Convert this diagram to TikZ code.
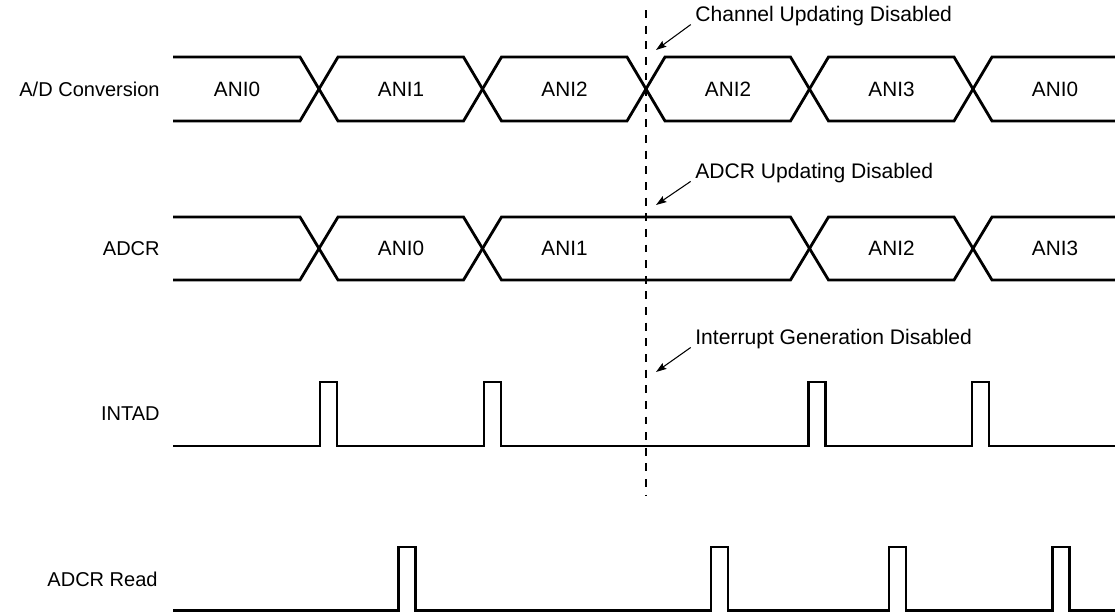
\documentclass[tikz,border=0pt]{standalone}
\usepackage{fontspec}
\setmainfont{Liberation Sans}
\usetikzlibrary{arrows.meta,positioning}

\begin{document}
\begin{tikzpicture}[x=0.02cm, y=-0.02cm,
  wave/.style={line width=1.6pt, line join=miter},
  sig/.style={font=\fontsize{11.4}{13}\selectfont, anchor=east, inner sep=0pt},
  val/.style={font=\fontsize{11.8}{13}\selectfont, inner sep=0pt},
  note/.style={font=\fontsize{12}{14}\selectfont, anchor=west, inner sep=0pt},
  pointer/.style={line width=0.6pt, shorten <=3pt, -{Stealth[length=6pt, width=4pt, inset=1pt]}},
  cut/.style={line width=0.6pt, dash pattern=on 4.5pt off 4.4pt}
]
  \useasboundingbox (0,0) rectangle (1115,612);
  % A/D Conversion
  \node[sig] (adc) at (160,89) {A/D Conversion};
  \draw[wave] (173,57) -- (300,57) -- (319,89) -- (300,121) -- (173,121);
  \foreach \a/\b in {319/482.5, 482.5/646, 646/809.5, 809.5/973}
     \draw[wave] (\a,89) -- (\a+19,57) -- (\b-19,57) -- (\b,89) -- (\b-19,121) -- (\a+19,121) -- cycle;
  \draw[wave] (1115,57) -- (992,57) -- (973,89) -- (992,121) -- (1115,121);
  \foreach \x/\t [count=\i] in {237/ANI0, 401/ANI1, 564.5/ANI2, 728/ANI2, 891.5/ANI3, 1055/ANI0}
     \node[val] (adc\i) at (\x,89) {\t};
  % ADCR
  \node[sig] (adcr) at (160,248.5) {ADCR};
  \draw[wave] (173,217) -- (300,217) -- (319,248.5) -- (300,280) -- (173,280);
  \foreach \a/\b in {319/482.5, 482.5/809.5, 809.5/973}
     \draw[wave] (\a,248.5) -- (\a+19,217) -- (\b-19,217) -- (\b,248.5) -- (\b-19,280) -- (\a+19,280) -- cycle;
  \draw[wave] (1115,217) -- (992,217) -- (973,248.5) -- (992,280) -- (1115,280);
  \foreach \x/\t [count=\i] in {401/ANI0, 564.5/ANI1, 891.5/ANI2, 1055/ANI3}
     \node[val] (adcr\i) at (\x,248.5) {\t};
  % INTAD
  \node[sig] (intad) at (160,414) {INTAD};
  \draw[wave] (173,446) foreach \p in {320,484,808.5,972} {
     -- (\p,446) -- (\p,382) -- (\p+17,382) -- (\p+17,446)} -- (1115,446);
  % ADCR Read
  \node[sig] (rd) at (158,579) {ADCR Read};
  \draw[wave] (173,610.7) foreach \p in {398.5,711,889,1052.5} {
     -- (\p,610.7) -- (\p,547) -- (\p+17,547) -- (\p+17,610.7)} -- (1115,610.7);
  % stop line and notes
  \coordinate (cuttop) at (646,10);
  \coordinate (cutbot) at (646,495);
  \draw[cut] (cuttop) -- (cutbot);
  \node[note] (chnote) at (695,16) {Channel Updating Disabled};
  \node[note] (adnote) at (695,173) {ADCR Updating Disabled};
  \node[note] (innote) at (695,339) {Interrupt Generation Disabled};
  \coordinate (chtip) at (656,50);
  \coordinate (adtip) at (656,205);
  \coordinate (intip) at (656,372);
  \draw[pointer] (chnote.base west) -- (chtip);
  \draw[pointer] (adnote.base west) -- (adtip);
  \draw[pointer] (innote.base west) -- (intip);
\end{tikzpicture}
\end{document}
